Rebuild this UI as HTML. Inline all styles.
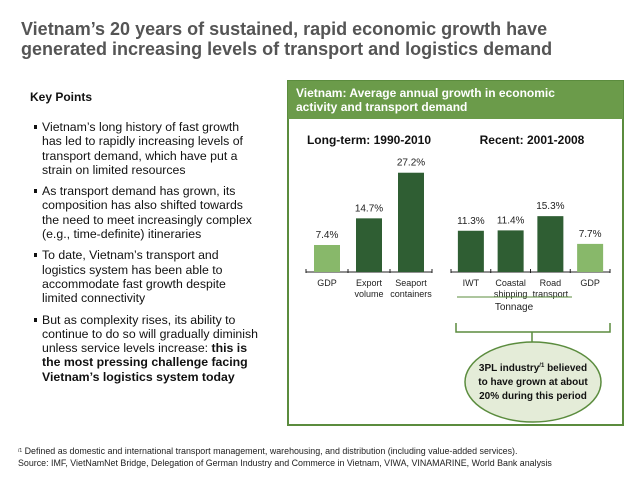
<!DOCTYPE html>
<html><head><meta charset="utf-8"><style>
body{margin:0;width:638px;height:479px;background:#fff;font-family:"Liberation Sans",sans-serif;overflow:hidden;position:relative}
.t{position:absolute;white-space:nowrap}
#title{left:21px;top:19px;font-size:18px;font-weight:bold;color:#555;line-height:20px}
#kp{left:30px;top:90px;font-size:12px;font-weight:bold;color:#111}
#bul{position:absolute;left:34px;top:120px;width:250px;font-size:12.3px;color:#111;line-height:14.3px;white-space:nowrap}
#bul p{margin:0 0 7px 0;padding-left:8px;position:relative}
#bul p:before{content:"";position:absolute;left:0;top:5px;width:3px;height:4px;background:#111}
#foot{left:18px;top:445px;font-size:8.9px;color:#222;line-height:12px}
</style></head><body>
<div id="title" class="t">Vietnam’s 20 years of sustained, rapid economic growth have<br>generated increasing levels of transport and logistics demand</div>
<div id="kp" class="t">Key Points</div>
<div id="bul">
<p>Vietnam’s long history of fast growth<br>has led to rapidly increasing levels of<br>transport demand, which have put a<br>strain on limited resources</p>
<p>As transport demand has grown, its<br>composition has also shifted towards<br>the need to meet increasingly complex<br>(e.g., time-definite) itineraries</p>
<p>To date, Vietnam’s transport and<br>logistics system has been able to<br>accommodate fast growth despite<br>limited connectivity</p>
<p>But as complexity rises, its ability to<br>continue to do so will gradually diminish<br>unless service levels increase: <b>this is<br>the most pressing challenge facing<br>Vietnam’s logistics system today</b></p>
</div>
<svg id="chart" width="638" height="479" style="position:absolute;left:0;top:0" font-family="Liberation Sans, sans-serif">
<rect x="288" y="81" width="335" height="344" fill="#fff" stroke="#5b8c3e" stroke-width="2"/>
<rect x="288" y="81" width="335" height="38" fill="#6b9b4a"/>
<text x="296" y="97" font-size="12" font-weight="bold" fill="#fff"><tspan x="296">Vietnam: Average annual growth in economic</tspan><tspan x="296" dy="14">activity and transport demand</tspan></text>
<text x="369" y="144" font-size="12" font-weight="bold" text-anchor="middle" fill="#111">Long-term: 1990-2010</text>
<text x="532" y="144" font-size="12" font-weight="bold" text-anchor="middle" fill="#111">Recent: 2001-2008</text>
<g id="bars"></g>
<line x1="457" y1="297" x2="572" y2="297" stroke="#5b8c3e" stroke-width="1"/>
<text x="514" y="310" font-size="10" text-anchor="middle" fill="#222">Tonnage</text>
<path d="M456,323 V332 H610 V323 M532,332 V342" fill="none" stroke="#5b8c3e" stroke-width="1.5"/>
<ellipse cx="533" cy="382" rx="68" ry="40" fill="#e4ecd8" stroke="#5b8c3e" stroke-width="1.5"/>
<text font-size="10" font-weight="bold" text-anchor="middle" fill="#111"><tspan x="533" y="371">3PL industry<tspan font-size="6" dy="-4">/1</tspan><tspan dy="4"> believed</tspan></tspan><tspan x="533" y="385">to have grown at about</tspan><tspan x="533" y="399">20% during this period</tspan></text>
</svg>
<div id="foot" class="t"><span style="font-size:5px;vertical-align:top">/1</span> Defined as domestic and international transport management, warehousing, and distribution (including value-added services).<br>Source: IMF, VietNamNet Bridge, Delegation of German Industry and Commerce in Vietnam, VIWA, VINAMARINE, World Bank analysis</div>
<script>
const leftCats=[["GDP"],["Export","volume"],["Seaport","containers"]];
const leftVals=[7.4,14.7,27.2];
const leftLight=[true,false,false];
const rightCats=[["IWT"],["Coastal","shipping"],["Road","transport"],["GDP"]];
const rightVals=[11.3,11.4,15.3,7.7];
const rightLight=[false,false,false,true];
const NS="http://www.w3.org/2000/svg";
const g=document.getElementById("bars");
const base=272, pxPer=3.65;
function y(v){return base-v*pxPer;}
function el(t,a){const e=document.createElementNS(NS,t);for(const k in a)e.setAttribute(k,a[k]);g.appendChild(e);return e;}
function group(cats,vals,light,x0,x1,prefix){
  const n=cats.length, w=(x1-x0)/n;
  const ax=el("line",{x1:x0,y1:base,x2:x1,y2:base,stroke:"#222","stroke-width":1});
  
  
  for(let i=0;i<=n;i++){const t=el("line",{x1:x0+i*w,y1:base-3,x2:x0+i*w,y2:base+1,stroke:"#222"});
    
    }
  for(let i=0;i<n;i++){
    const cx=x0+(i+0.5)*w, bw=26;
    const r=el("rect",{x:cx-bw/2,y:y(vals[i]),width:bw,height:base-y(vals[i]),fill:light[i]?"#88b86a":"#2f5e33"});
    
    
    const l=el("text",{x:cx,y:y(vals[i])-7,"font-size":10,"text-anchor":"middle",fill:"#222"});
    l.textContent=vals[i].toFixed(1)+"%";
    
    
    cats[i].forEach((c,j)=>{const tx=el("text",{x:cx,y:base+14+j*11,"font-size":9,"text-anchor":"middle",fill:"#222"});
      tx.textContent=c;
      
      });
  }
}
group(leftCats,leftVals,leftLight,306,432,"long-term");
group(rightCats,rightVals,rightLight,451,610,"recent");
</script>
</body></html>
